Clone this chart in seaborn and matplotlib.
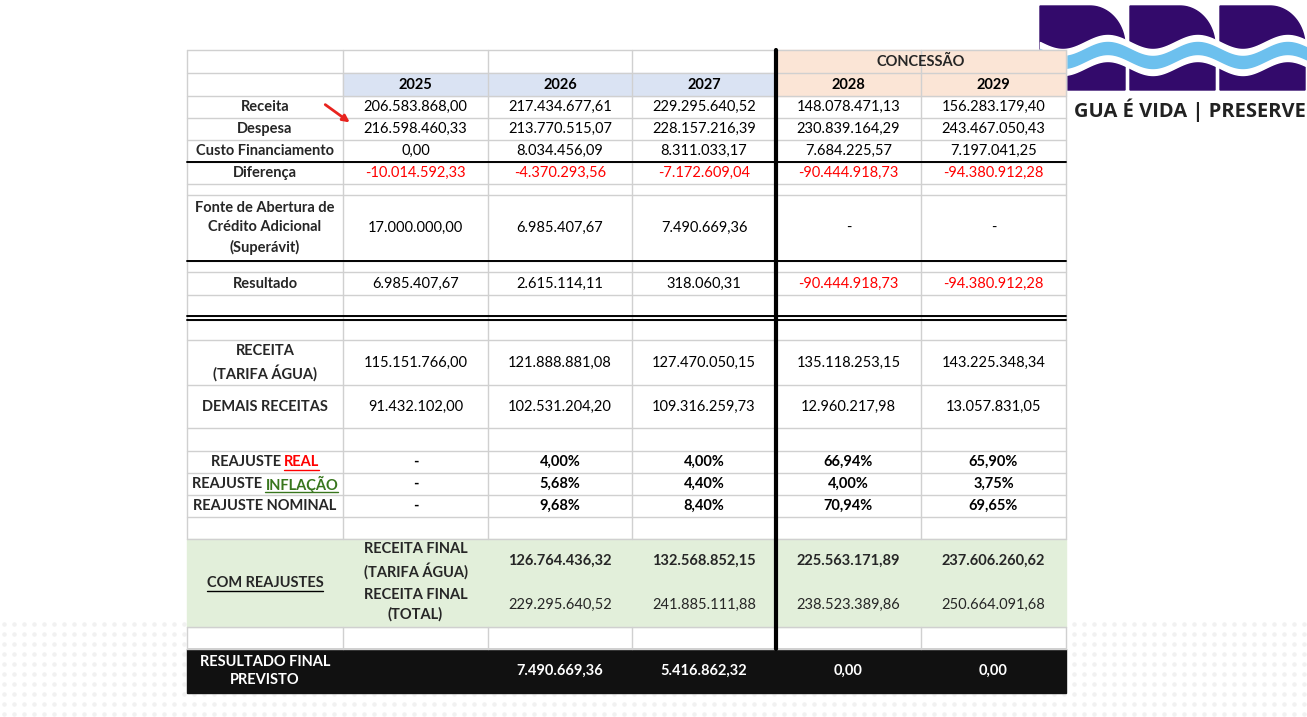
import numpy as np
import matplotlib
matplotlib.use("Agg")
import matplotlib.pyplot as plt
import seaborn as sns
from matplotlib.patches import Rectangle, Polygon, FancyArrowPatch

sns.set_style("white")
plt.rcParams['font.family'] = ['Lato', 'DejaVu Sans']

# dados
anos = ["2025", "2026", "2027", "2028", "2029"]
receita = ["206.583.868,00", "217.434.677,61", "229.295.640,52", "148.078.471,13", "156.283.179,40"]
despesa = ["216.598.460,33", "213.770.515,07", "228.157.216,39", "230.839.164,29", "243.467.050,43"]
custo_fin = ["0,00", "8.034.456,09", "8.311.033,17", "7.684.225,57", "7.197.041,25"]
diferenca = ["-10.014.592,33", "-4.370.293,56", "-7.172.609,04", "-90.444.918,73", "-94.380.912,28"]
fonte = ["17.000.000,00", "6.985.407,67", "7.490.669,36", "-", "-"]
resultado = ["6.985.407,67", "2.615.114,11", "318.060,31", "-90.444.918,73", "-94.380.912,28"]
rec_tarifa = ["115.151.766,00", "121.888.881,08", "127.470.050,15", "135.118.253,15", "143.225.348,34"]
demais = ["91.432.102,00", "102.531.204,20", "109.316.259,73", "12.960.217,98", "13.057.831,05"]
reaj_real = ["-", "4,00%", "4,00%", "66,94%", "65,90%"]
reaj_infl = ["-", "5,68%", "4,40%", "4,00%", "3,75%"]
reaj_nom = ["-", "9,68%", "8,40%", "70,94%", "69,65%"]
final_tarifa = ["126.764.436,32", "132.568.852,15", "225.563.171,89", "237.606.260,62"]
final_total = ["229.295.640,52", "241.885.111,88", "238.523.389,86", "250.664.091,68"]
final_prev = ["7.490.669,36", "5.416.862,32", "0,00", "0,00"]

xs = [187, 343, 488, 632, 776, 921, 1066]
cx = [(xs[i] + xs[i + 1]) / 2 for i in range(6)]
grid = "#d0d0d0"
fs = 10.5
ls = 1.45

fig = plt.figure(figsize=(13.07, 7.17), dpi=100)
ax = fig.add_axes([0, 0, 1, 1])
ax.set_xlim(0, 1307)
ax.set_ylim(717, 0)
ax.axis("off")

# fundo pontilhado
dx, dy = np.meshgrid(np.arange(4, 1307, 10), np.arange(624, 717, 10))
ax.scatter(dx.ravel(), dy.ravel(), s=5, color="#f1f1f1", zorder=0)
ax.add_patch(Rectangle((187, 50), 879, 643, color="white", zorder=1))

# logo
purple = "#330a6b"
for x0 in [1040, 1130, 1220]:
    t = np.linspace(0, np.pi / 2, 30)
    top = [(x0, 6)] + [(x0 + 50 + 35 * np.sin(a), 6 + 40 - 40 * np.cos(a)) for a in t] + [(x0 + 85, 90), (x0, 90)]
    ax.add_patch(Polygon(top, closed=True, color=purple, zorder=0.5))
wx = np.linspace(1040, 1307, 200)
wy = 55 + 7 * np.sin((wx - 1040) / 90 * 2 * np.pi)
ax.fill_between(wx, wy - 13, wy + 13, color="white", zorder=0.6)
ax.fill_between(wx, wy - 6, wy + 6, color="#6cc0ee", zorder=0.7)
ax.text(1306, 110, "GUA É VIDA | PRESERVE", fontsize=14.5, fontweight="bold", color="#222222",
        va="center", ha="right", zorder=0.8, family=["Open Sans", "DejaVu Sans"])

# preenchimentos
ax.add_patch(Rectangle((343, 73), 433, 23, color="#dae3f3", zorder=2))
ax.add_patch(Rectangle((776, 50), 290, 46, color="#fbe5d6", zorder=2))
ax.add_patch(Rectangle((187, 539), 879, 88, color="#e2efda", zorder=2))
ax.add_patch(Rectangle((187, 649), 879, 44, color="#111111", zorder=2))

# linhas
rows = [50, 73, 96, 118, 140, 162, 184, 195, 261, 272, 295, 316, 320, 340, 385, 428, 451, 473, 495, 517, 539, 627, 649]
for y in rows:
    ax.plot([187, 1066], [y, y], color=grid, lw=1, zorder=3)
for y in [162, 261, 316, 320]:
    ax.plot([187, 1066], [y, y], color="black", lw=1.4, zorder=4)
for x in xs:
    ax.plot([x, x], [50, 539], color=grid, lw=1, zorder=3)
    ax.plot([x, x], [627, 649], color=grid, lw=1, zorder=3)
ax.plot([776, 776], [50, 649], color="black", lw=3, zorder=5)


def linha(y, label, vals, cor="black", bold_vals=False, col0=1):
    if label:
        ax.text(cx[0], y, label, ha="center", va="center", fontsize=fs, fontweight="bold",
                zorder=6, linespacing=ls)
    for i, v in enumerate(vals):
        c = cor if not isinstance(cor, list) else cor[i]
        ax.text(cx[col0 + i], y, v, ha="center", va="center", fontsize=fs, color=c,
                fontweight="bold" if bold_vals else "normal", zorder=6)


red = "#ff0000"
ax.text((776 + 1066) / 2, 62, "CONCESSÃO", ha="center", va="center", fontsize=fs, fontweight="bold", zorder=6)
linha(85, "", anos, bold_vals=True)
linha(107, "Receita", receita)
linha(129, "Despesa", despesa)
linha(151, "Custo Financiamento", custo_fin)
linha(173, "Diferença", diferenca, cor=red)
linha(228, "Fonte de Abertura de\nCrédito Adicional\n(Superávit)", fonte)
linha(284, "Resultado", resultado, cor=["black"] * 3 + [red] * 2)
linha(363, "RECEITA\n(TARIFA ÁGUA)", rec_tarifa)
linha(407, "DEMAIS RECEITAS", demais)
linha(462, "", reaj_real, bold_vals=True)
linha(484, "", reaj_infl, bold_vals=True)
linha(506, "REAJUSTE NOMINAL", reaj_nom, bold_vals=True)

# rótulos com palavra sublinhada
fig.canvas.draw()
rend = fig.canvas.get_renderer()
inv = ax.transData.inverted()


def largura(s):
    t = ax.text(0, 0, s, fontsize=fs, fontweight="bold")
    bb = t.get_window_extent(rend)
    t.remove()
    return bb.width


def sublinha(x0, x1, y, c):
    ax.plot([x0, x1], [y, y], color=c, lw=1, zorder=6)


for y, word, c in [(462, "REAL", red), (484, "INFLAÇÃO", "#38761d")]:
    w1 = largura("REAJUSTE ")
    w2 = largura(word)
    start = cx[0] - (w1 + w2) / 2
    ax.text(start, y, "REAJUSTE ", ha="left", va="center", fontsize=fs, fontweight="bold", zorder=6)
    ax.text(start + w1, y, word, ha="left", va="center", fontsize=fs, fontweight="bold", color=c, zorder=6)
    sublinha(start + w1, start + w1 + w2, y + 8, c)

# bloco verde
ax.text(cx[0], 583, "COM REAJUSTES", ha="center", va="center", fontsize=fs, fontweight="bold", zorder=6)
w = largura("COM REAJUSTES")
sublinha(cx[0] - w / 2, cx[0] + w / 2, 591, "black")
ax.text(cx[1], 561, "RECEITA FINAL\n(TARIFA ÁGUA)", ha="center", va="center", fontsize=fs,
        fontweight="bold", zorder=6, linespacing=ls)
ax.text(cx[1], 605, "RECEITA FINAL\n(TOTAL)", ha="center", va="center", fontsize=fs,
        fontweight="bold", zorder=6, linespacing=ls)
for i, v in enumerate(final_tarifa):
    ax.text(cx[2 + i], 561, v, ha="center", va="center", fontsize=fs, fontweight="bold", zorder=6)
for i, v in enumerate(final_total):
    ax.text(cx[2 + i], 605, v, ha="center", va="center", fontsize=fs, zorder=6)

# resultado final
ax.text(cx[0], 671, "RESULTADO FINAL\nPREVISTO", ha="center", va="center", fontsize=fs,
        fontweight="bold", color="white", zorder=6, linespacing=ls)
for i, v in enumerate(final_prev):
    ax.text(cx[2 + i], 671, v, ha="center", va="center", fontsize=fs, fontweight="bold",
            color="white", zorder=6)

# seta
ax.add_patch(FancyArrowPatch((323, 103), (352, 124), arrowstyle="-|>", mutation_scale=10,
                             color="#e8231e", lw=2, zorder=7))

fig.savefig("out.png", dpi=100)
